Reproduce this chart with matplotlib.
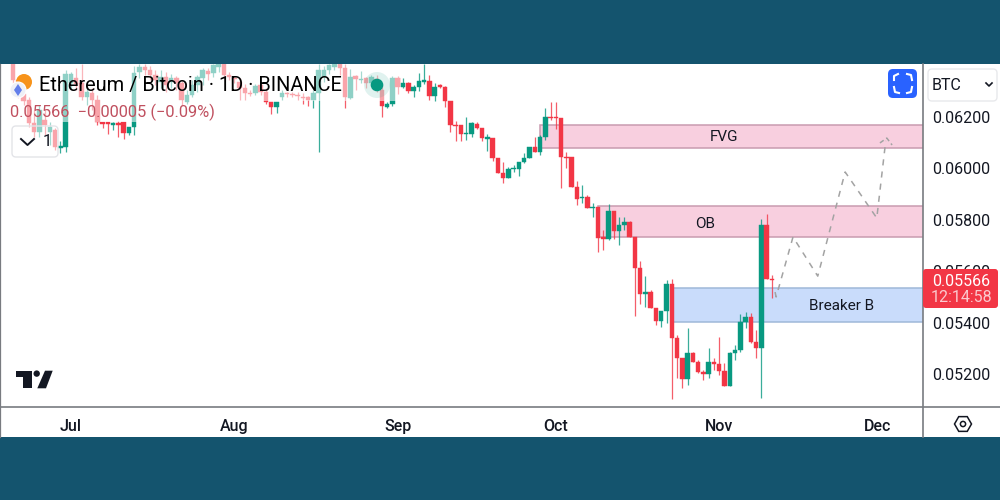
import numpy as np
import matplotlib
matplotlib.use('Agg')
import matplotlib.pyplot as plt
from matplotlib.lines import Line2D
from matplotlib.patches import Rectangle, Circle, Polygon, FancyBboxPatch
from matplotlib.transforms import Affine2D

plt.rcParams['font.family'] = ['Roboto', 'DejaVu Sans']

# Daily candles, day 0 = 1 Jul
days = np.arange(-11, 134)
opens = [.06406,.06344,.06289,.06266,.06177,.06142,.06188,.06142,.06149,.06079,.06083,
         .06332,.06352,.06332,.06278,.06293,.06266,.06181,.06181,.06169,.06177,
         .06181,.06138,.06161,.06375,.06395,.06383,.06363,.06336,.06356,.06336,
         .06352,.06332,.06258,.06286,.06325,.06352,.06379,.06371,.06395,.06406,
         .06363,.06352,.06336,.06313,.06293,.06293,.06325,.06297,.06258,.06239,
         .06278,.06293,.06289,.06286,.06278,.06278,.06266,.06293,.06356,.06383,
         .06395,.06406,.06391,.06274,.06360,.06344,.06352,.06332,.06348,.06305,
         .06239,.06251,.06352,.06317,.06332,.06301,.06317,.06336,.06340,.06282,
         .06325,.06317,.06262,.06169,.06169,.06134,.06134,.06173,.06157,.06114,
         .06118,.06040,.05982,.05963,.05998,.05998,.06025,.06040,.06083,.06064,
         .06122,.06200,.06200,.06196,.06044,.06044,.05928,.05885,.05889,.05846,
         .05850,.05733,.05725,.05834,.05756,.05780,.05791,.05733,.05612,.05511,
         .05519,.05457,.05406,.05445,.05550,.05340,.05262,.05181,.05282,.05247,
         .05208,.05200,.05247,.05239,.05212,.05153,.05282,.05293,.05402,.05422,
         .05325,.05301,.05780,.05570]
closes = [.06344,.06289,.06262,.06177,.06142,.06227,.06169,.06161,.06083,.06087,.06367,
          .06367,.06328,.06278,.06297,.06266,.06181,.06173,.06173,.06177,.06169,
          .06138,.06161,.06371,.06395,.06383,.06363,.06344,.06356,.06325,.06352,
          .06332,.06266,.06286,.06325,.06356,.06383,.06367,.06402,.06406,.06363,
          .06356,.06348,.06313,.06293,.06289,.06321,.06297,.06258,.06239,.06258,
          .06293,.06289,.06286,.06282,.06274,.06266,.06293,.06383,.06383,.06402,
          .06406,.06391,.06278,.06356,.06348,.06348,.06332,.06356,.06305,.06243,
          .06251,.06352,.06317,.06332,.06301,.06317,.06340,.06344,.06282,.06317,
          .06317,.06262,.06169,.06165,.06134,.06138,.06177,.06157,.06118,.06122,
          .06040,.05982,.05963,.05998,.06002,.06025,.06040,.06083,.06064,.06122,
          .06200,.06196,.06196,.06044,.06040,.05928,.05881,.05889,.05846,.05850,
          .05729,.05725,.05834,.05756,.05780,.05791,.05733,.05612,.05511,.05519,
          .05457,.05406,.05445,.05550,.05340,.05262,.05181,.05282,.05247,.05208,
          .05200,.05247,.05239,.05212,.05153,.05282,.05293,.05402,.05422,.05325,
          .05301,.05780,.05570,.05566]
highs = [.06406,.06352,.06297,.06278,.06227,.06247,.06227,.06181,.06157,.06107,.06383,
         .06375,.06391,.06406,.06325,.06313,.06286,.06181,.06181,.06181,.06184,
         .06181,.06161,.06398,.06406,.06406,.06398,.06383,.06383,.06375,.06367,
         .06360,.06340,.06305,.06344,.06363,.06391,.06391,.06406,.06406,.06406,
         .06375,.06360,.06352,.06328,.06305,.06328,.06336,.06313,.06258,.06258,
         .06305,.06297,.06297,.06297,.06293,.06282,.06305,.06406,.06398,.06406,
         .06406,.06406,.06406,.06387,.06363,.06379,.06356,.06363,.06363,.06325,
         .06258,.06360,.06360,.06352,.06336,.06325,.06371,.06406,.06363,.06332,
         .06328,.06321,.06262,.06184,.06169,.06200,.06181,.06181,.06157,.06134,
         .06118,.06040,.06025,.06005,.06013,.06025,.06060,.06083,.06122,.06130,
         .06235,.06258,.06258,.06196,.06064,.06044,.05951,.05935,.05897,.05865,
         .05850,.05760,.05861,.05834,.05811,.05811,.05795,.05733,.05640,.05581,
         .05527,.05457,.05445,.05566,.05570,.05352,.05262,.05379,.05286,.05255,
         .05216,.05301,.05262,.05344,.05243,.05286,.05313,.05433,.05441,.05437,
         .05371,.05803,.05823,.05585]
lows = [.06328,.06274,.06247,.06161,.06122,.06122,.06130,.06091,.06072,.06060,.06064,
        .06309,.06305,.06266,.06247,.06227,.06169,.06157,.06134,.06149,.06122,
        .06114,.06130,.06130,.06352,.06363,.06344,.06325,.06313,.06297,.06313,
        .06305,.06247,.06251,.06278,.06297,.06325,.06344,.06356,.06375,.06356,
        .06344,.06332,.06266,.06266,.06282,.06286,.06286,.06251,.06212,.06215,
        .06266,.06278,.06278,.06266,.06251,.06243,.06235,.06064,.06336,.06367,
        .06383,.06363,.06235,.06270,.06305,.06332,.06313,.06325,.06297,.06200,
        .06235,.06243,.06289,.06313,.06293,.06278,.06301,.06328,.06266,.06262,
        .06313,.06239,.06142,.06107,.06107,.06111,.06122,.06153,.06107,.06068,
        .06029,.05982,.05943,.05963,.05986,.05970,.06021,.06040,.06064,.06052,
        .06111,.06188,.06153,.05924,.06002,.05928,.05858,.05865,.05846,.05811,
        .05675,.05682,.05721,.05725,.05702,.05760,.05733,.05426,.05472,.05461,
        .05457,.05391,.05383,.05398,.05103,.05184,.05146,.05157,.05247,.05204,
        .05177,.05184,.05216,.05196,.05153,.05153,.05255,.05286,.05379,.05321,
        .05262,.05107,.05570,.05496]

# Drawn zones: start day, bottom, top, label position
zone_names = ['FVG', 'OB', 'Breaker B']
zone_start = [89, 100, 114]
zone_bottom = [.06079, .05733, .05402]
zone_top = [.06169, .05854, .05535]
zone_label_day = [123.9, 120.3, 146.3]
zone_label_price = [.06122, .05784, .05465]

# Projected path, plus the small hook at its top
path_days = [133.6, 133.8, 137.0, 141.7, 146.9, 152.9, 154.6]
path_prices = [.05519, .05500, .05733, .05581, .05986, .05807, .06107]
hook_days = [153.5, 154.8, 155.8]
hook_prices = [.06099, .06118, .06091]

month_days = [0, 31, 62, 92, 123, 153]
month_names = ['Jul', 'Aug', 'Sep', 'Oct', 'Nov', 'Dec']
price_ticks = [.052, .054, .056, .058, .060, .062]

GREEN = '#089981'
RED = '#F23645'
GREY = '#787b80'
INK = '#131722'

fig = plt.figure(figsize=(10, 5), dpi=100, facecolor='#14546e')
# pixel coordinates, origin top left like the reference
px = Affine2D().scale(1, -1).translate(0, 500)

fig.add_artist(Rectangle((0, 64), 1000, 373, transform=px, fc='white', ec='none', zorder=-1))

ax = fig.add_axes([0, 93 / 500, 0.923, 343 / 500], facecolor='none')
ax.set_xlim(-13.47, 161.67)
ax.set_ylim(.05072, .06406)

# zones
for name, start, bottom, top, lx, ly in zip(zone_names, zone_start, zone_bottom, zone_top,
                                            zone_label_day, zone_label_price):
    fc, ec = ('#c9dcfb', '#9fb8d8') if name == 'Breaker B' else ('#f8cfdf', '#c99bb0')
    ax.add_patch(Rectangle((start, bottom), 170 - start, top - bottom, fc=fc, ec=ec, lw=1.1, zorder=1))
    ax.text(lx, ly, name, ha='center', va='center', fontsize=11, color=INK, zorder=5)

# candles
o = np.array(opens)
c = np.array(closes)
colors = [GREEN if b >= a else RED for a, b in zip(o, c)]
ax.vlines(days, lows, highs, colors=colors, lw=0.9, alpha=0.8, zorder=3)
ax.bar(days, np.abs(c - o), bottom=np.minimum(o, c), width=0.85, color=colors,
       edgecolor=colors, linewidth=0.3, zorder=4)

ax.plot(path_days, path_prices, color='#a3a3a3', lw=1.1, ls=(0, (4, 4)), zorder=5)
ax.plot(hook_days, hook_prices, color='#a3a3a3', lw=1.1, ls=(0, (3, 2)), zorder=5)

# axes
for side in ['top', 'left', 'right', 'bottom']:
    ax.spines[side].set_visible(False)
ax.yaxis.tick_right()
ax.set_yticks(price_ticks)
ax.set_yticklabels(['%.5f' % p for p in price_ticks])
ax.set_xticks(month_days)
ax.set_xticklabels(month_names, fontweight='medium')
ax.tick_params(axis='y', length=0, pad=6.5, labelsize=11.5, labelcolor=INK)
ax.tick_params(axis='x', length=0, pad=8.5, labelsize=11.5, labelcolor=INK)

# faded layer under the legend
fade = dict(transform=px, fc='white', ec='none', alpha=0.55, zorder=1)
fig.add_artist(Rectangle((1, 64), 399, 37, **fade))
fig.add_artist(Rectangle((1, 101), 214, 21, **fade))
fig.add_artist(Rectangle((12, 122), 46, 35, **fade))

# frame lines
for xs, ys, lw in [((0.3, 0.3), (64, 437), 0.9), ((923, 923), (64, 437), 1.2), ((0, 1000), (407, 407), 1.2)]:
    fig.add_artist(Line2D(xs, ys, transform=px, color=GREY, lw=lw, zorder=2))

# legend
fig.add_artist(Circle((24, 82), 8, transform=px, fc='#f7931a', ec='none', zorder=3))
fig.add_artist(Circle((18, 90), 8, transform=px, fc='#eef0f6', ec='white', lw=0.8, zorder=3))
fig.add_artist(Polygon([(18, 84), (22, 90), (18, 96), (14, 90)], transform=px, fc='#627eea', ec='none', zorder=3))
fig.text(39 / 1000, 1 - 85.5 / 500, 'Ethereum / Bitcoin · 1D · BINANCE', fontsize=14.4, color='black', va='center', zorder=4)
fig.text(10 / 1000, 1 - 112.5 / 500, '0.05566  −0.00005 (−0.09%)', fontsize=11.8, color='#c0505f', va='center', zorder=4)

fig.add_artist(FancyBboxPatch((14, 128), 42, 27, boxstyle='round,pad=2,rounding_size=4', transform=px,
                              fc='none', ec='#e3e4e8', lw=1, zorder=3))
fig.add_artist(Line2D([21, 27.5, 34], [139, 145, 139], transform=px, color=INK, lw=1.4, zorder=4))
fig.text(47 / 1000, 1 - 141 / 500, '1', fontsize=12, color=INK, ha='center', va='center', zorder=4)

# green event marker
fig.add_artist(Circle((377, 85), 13, transform=px, fc='#089981', ec='none', alpha=0.12, zorder=3))
fig.add_artist(Circle((377, 85), 6.3, transform=px, fc=GREEN, ec='none', zorder=3))

# TradingView logo
fig.add_artist(Polygon([(15.7, 370.7), (31.7, 370.7), (31.7, 388.3), (23.3, 388.3), (23.3, 377.3), (15.7, 377.3)],
                       transform=px, fc=INK, ec='none', zorder=3))
fig.add_artist(Circle((36.7, 373.6), 3.2, transform=px, fc=INK, ec='none', zorder=3))
fig.add_artist(Polygon([(45, 370.7), (52.7, 370.7), (46, 388.3), (37.3, 388.3)], transform=px, fc=INK, ec='none', zorder=3))

# blue fullscreen button
fig.add_artist(FancyBboxPatch((890, 71), 25, 25, boxstyle='round,pad=2,rounding_size=5', transform=px,
                              fc='#2962ff', ec='none', zorder=3))
for xs, ys in [([894, 894, 898], [80, 76, 74]), ([907, 911, 912], [74, 75, 80]),
               ([894, 895, 899], [87, 92, 93]), ([907, 911, 912], [93, 92, 87])]:
    fig.add_artist(Line2D(xs, ys, transform=px, color='white', lw=1.5, zorder=4))

# currency selector
fig.add_artist(FancyBboxPatch((930, 71), 65, 28, boxstyle='round,pad=2,rounding_size=4', transform=px,
                              fc='white', ec='#e8e9ec', lw=1, zorder=3))
fig.text(932 / 1000, 1 - 85 / 500, 'BTC', fontsize=11.5, color=INK, va='center', zorder=4)
fig.add_artist(Line2D([986, 989, 992], [83, 86, 83], transform=px, color=INK, lw=1.2, zorder=4))

# last price tag
fig.add_artist(FancyBboxPatch((924, 270), 73, 37, boxstyle='round,pad=1,rounding_size=3', transform=px,
                              fc=RED, ec='none', zorder=3))
fig.text(961 / 1000, 1 - 281 / 500, '0.05566', fontsize=11.5, color='white', ha='center', va='center', zorder=4)
fig.text(961 / 1000, 1 - 298 / 500, '12:14:58', fontsize=11.5, color='#fbc9ce', ha='center', va='center', zorder=4)

# settings icon
a = np.deg2rad(np.arange(0, 360, 60))
fig.add_artist(Polygon(np.c_[963 + 8.5 * np.cos(a), 424 + 8.5 * np.sin(a)], transform=px, fc='none', ec=INK, lw=1.1, zorder=3))
fig.add_artist(Circle((963, 424), 2.6, transform=px, fc='none', ec=INK, lw=1.1, zorder=3))

fig.savefig('out.png', facecolor=fig.get_facecolor())
